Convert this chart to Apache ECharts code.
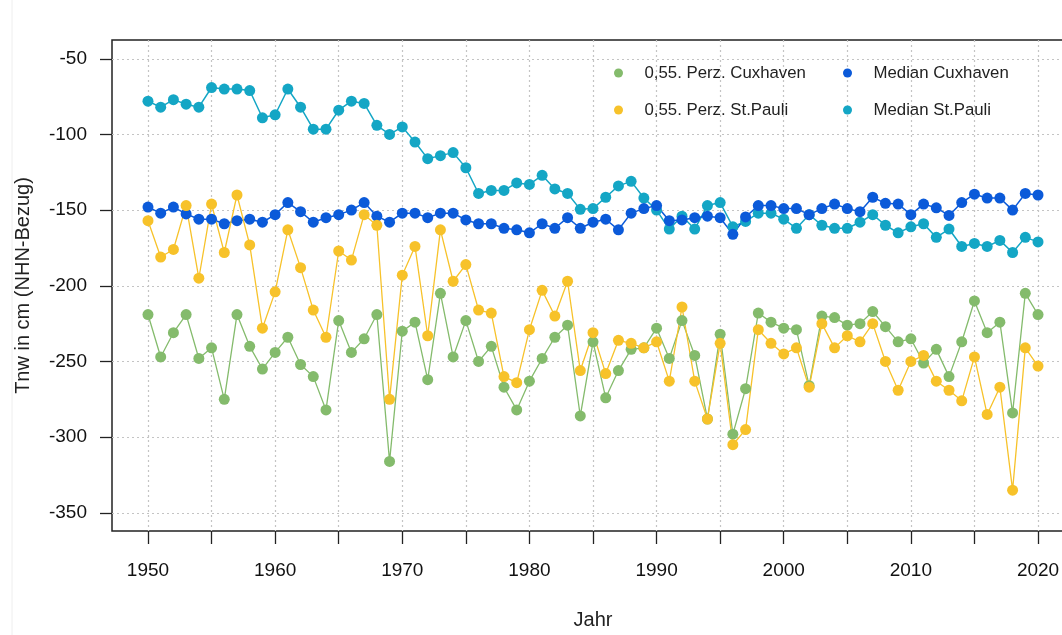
<!DOCTYPE html>
<html>
<head>
<meta charset="utf-8">
<script src="https://cdn.jsdelivr.net/npm/echarts@6/dist/echarts.min.js"></script>
<style>
  html, body { margin: 0; padding: 0; background: #fff; overflow: hidden; }
  /* plot box runs past the right edge of the window, like the reference */
  #chart { width: 1074px; height: 635px; }
</style>
</head>
<body>
<div id="chart"></div>
<script>
const years = [1950, 1951, 1952, 1953, 1954, 1955, 1956, 1957, 1958, 1959,
  1960, 1961, 1962, 1963, 1964, 1965, 1966, 1967, 1968, 1969,
  1970, 1971, 1972, 1973, 1974, 1975, 1976, 1977, 1978, 1979,
  1980, 1981, 1982, 1983, 1984, 1985, 1986, 1987, 1988, 1989,
  1990, 1991, 1992, 1993, 1994, 1995, 1996, 1997, 1998, 1999,
  2000, 2001, 2002, 2003, 2004, 2005, 2006, 2007, 2008, 2009,
  2010, 2011, 2012, 2013, 2014, 2015, 2016, 2017, 2018, 2019, 2020];

// 0,55. Perz. Cuxhaven
const percCux = [-219, -247, -231, -219, -248, -241, -275, -219, -240, -255,
  -244, -234, -252, -260, -282, -223, -244, -235, -219, -316,
  -230, -224, -262, -205, -247, -223, -250, -240, -267, -282,
  -263, -248, -234, -226, -286, -237, -274, -256, -242, -241,
  -228, -248, -223, -246, -288, -232, -298, -268, -218, -224,
  -228, -229, -266, -220, -221, -226, -225, -217, -227, -237,
  -235, -251, -242, -260, -237, -210, -231, -224, -284, -205, -219];

// 0,55. Perz. St.Pauli
const percSP = [-157, -181, -176, -147, -195, -146, -178, -140, -173, -228,
  -204, -163, -188, -216, -234, -177, -183, -153, -160, -275,
  -193, -174, -233, -163, -197, -186, -216, -218, -260, -264,
  -229, -203, -220, -197, -256, -231, -258, -236, -238, -241,
  -237, -263, -214, -263, -288, -238, -305, -295, -229, -238,
  -245, -241, -267, -225, -241, -233, -237, -225, -250, -269,
  -250, -246, -263, -269, -276, -247, -285, -267, -335, -241, -253];

// Median Cuxhaven
const medCux = [-148, -152, -148, -152.5, -156, -156, -159, -157, -156, -158,
  -153, -145, -151, -158, -155, -153, -150, -145, -154, -158,
  -152, -152, -155, -152, -152, -156.5, -159, -159, -162, -163,
  -165, -159, -162, -155, -162, -158, -156, -163, -152, -149,
  -147, -157, -156.5, -155, -154, -155, -166, -154.5, -147, -147,
  -149, -149, -153, -149, -146, -149, -151, -141.5, -145.5, -146,
  -153, -146, -148.5, -153.5, -145, -139.5, -142, -142, -150, -139, -140];

// Median St.Pauli
const medSP = [-78, -82, -77, -80, -82, -69, -70, -70, -71, -89,
  -87, -70, -82, -96.5, -96.5, -84, -78, -79.5, -94, -100,
  -95, -105, -116, -114, -112, -122, -139, -137, -137, -132,
  -133, -127, -136, -139, -149.5, -149, -141.5, -134, -131, -142,
  -150, -162.5, -154, -162.5, -147, -145, -161, -157.5, -152, -152,
  -156, -162, -153, -160, -162, -162, -158, -153, -160, -165,
  -161, -159, -168, -162.5, -174, -172, -174, -170, -178, -168, -171];

const xTicks = [1950, 1955, 1960, 1965, 1970, 1975, 1980, 1985, 1990, 1995,
  2000, 2005, 2010, 2015, 2020];
const xLabels = [1950, 1960, 1970, 1980, 1990, 2000, 2010, 2020];
const yTicks = [-350, -300, -250, -200, -150, -100, -50];

const names = ["0,55. Perz. Cuxhaven", "0,55. Perz. St.Pauli", "Median Cuxhaven", "Median St.Pauli"];
const colors = {
  green: "#84bb6c",
  yellow: "#f7c22a",
  blue: "#0b5ad9",
  cyan: "#14a6c5",
};

const font = "Liberation Sans, Arial, Helvetica, sans-serif";

function pairs(vals) {
  return years.map(function (y, i) { return [y, vals[i]]; });
}

function line(name, vals, color, width) {
  return {
    name: name,
    type: "line",
    data: pairs(vals),
    symbol: "circle",
    symbolSize: 11,
    showAllSymbol: true,
    color: color,
    lineStyle: { color: color, width: width },
    itemStyle: { color: color },
    emphasis: { disabled: true },
    animation: false,
  };
}

const legendBase = {
  orient: "vertical",
  icon: "circle",
  itemWidth: 42,
  itemHeight: 9,
  itemGap: 19,
  selectedMode: false,
  textStyle: { fontFamily: font, fontSize: 16.8, color: "#222", lineHeight: 18 },
};

const chart = echarts.init(document.getElementById("chart"), null, { renderer: "canvas" });

chart.setOption({
  backgroundColor: "#fff",
  animation: false,
  grid: {
    left: 112, top: 40, right: 0, bottom: 104,
    show: true, borderColor: "#222", borderWidth: 1.5,
  },
  legend: [
    Object.assign({}, legendBase, { left: 609, top: 59, data: [names[0], names[1]] }),
    Object.assign({}, legendBase, { left: 838, top: 59, data: [names[2], names[3]] }),
  ],
  xAxis: {
    type: "value",
    min: 1947.17,
    max: 2022.83,
    name: "Jahr",
    nameLocation: "middle",
    nameGap: 79,
    nameTextStyle: { fontFamily: font, fontSize: 20, color: "#222" },
    axisLine: { show: false },
    axisTick: {
      show: true, length: 13, customValues: xTicks,
      lineStyle: { color: "#222", width: 1.3 },
    },
    axisLabel: {
      customValues: xLabels, margin: 30,
      fontFamily: font, fontSize: 19, color: "#111",
      formatter: function (v) { return String(v); },
    },
    splitLine: {
      show: true,
      lineStyle: { color: "#c4c4c4", type: [2, 3], width: 1.2 },
    },
  },
  yAxis: {
    type: "value",
    min: -362,
    max: -37.6,
    name: "Tnw in cm (NHN-Bezug)",
    nameLocation: "middle",
    nameGap: 79,
    nameTextStyle: { fontFamily: font, fontSize: 20, color: "#222" },
    axisLine: { show: false },
    axisTick: {
      show: true, length: 12, customValues: yTicks,
      lineStyle: { color: "#222", width: 1.3 },
    },
    axisLabel: {
      customValues: yTicks, margin: 25,
      fontFamily: font, fontSize: 19, color: "#111",
      formatter: function (v) { return String(v); },
    },
    splitLine: {
      show: true,
      lineStyle: { color: "#c4c4c4", type: [2, 3], width: 1.2 },
    },
  },
  graphic: [
    {
      type: "line", silent: true,
      shape: { x1: 12, y1: 0, x2: 12, y2: 635 },
      style: { stroke: "#eeeeee", lineWidth: 1 },
    },
  ],
  series: [
    line(names[3], medSP, colors.cyan, 1.5),
    line(names[2], medCux, colors.blue, 1.5),
    line(names[0], percCux, colors.green, 1.3),
    line(names[1], percSP, colors.yellow, 1.3),
  ],
});
</script>
</body>
</html>
